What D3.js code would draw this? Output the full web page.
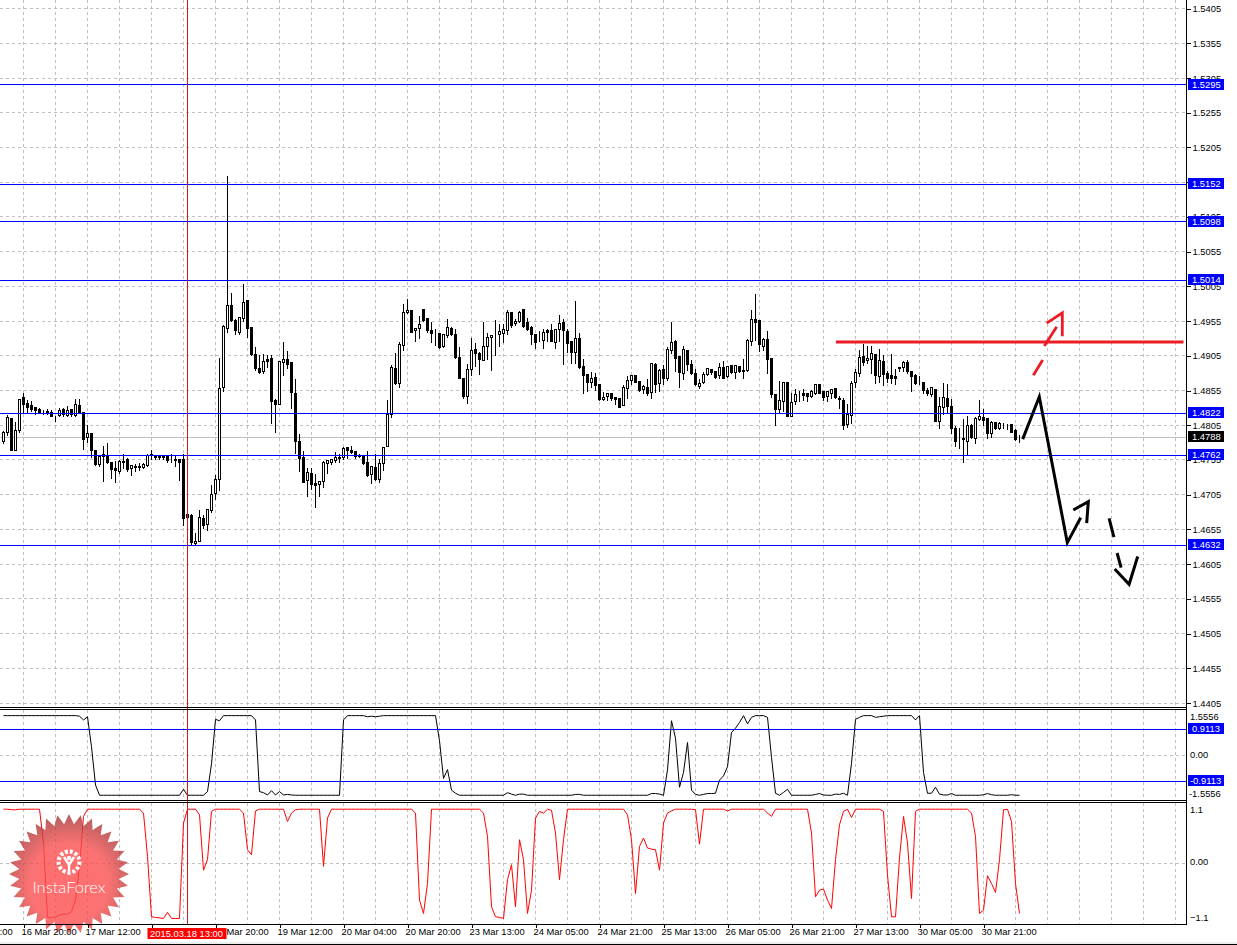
<!DOCTYPE html>
<html>
<head>
<meta charset="utf-8">
<title>GBPUSD H1</title>
<script src="https://cdnjs.cloudflare.com/ajax/libs/d3/7.8.5/d3.min.js"></script>
<style>
  html, body { margin: 0; padding: 0; background: #fff; }
  svg { display: block; }
  text { font-family: "Liberation Sans", Arial, sans-serif; font-size: 9.4px; fill: #000; }
</style>
</head>
<body>
<div id="chart"></div>
<script>
// open, high, low, close per hourly bar
const candles = [
  [1.4782,1.4797,1.4779,1.4794],[1.4795,1.4820,1.4790,1.4816],[1.4815,1.4816,1.4768,1.4769],[1.4768,1.4811,1.4768,1.4797],
  [1.4798,1.4842,1.4795,1.4842],[1.4845,1.4852,1.4824,1.4835],[1.4837,1.4842,1.4824,1.4831],[1.4834,1.4840,1.4825,1.4828],
  [1.4830,1.4832,1.4820,1.4826],[1.4828,1.4830,1.4822,1.4824],[1.4824,1.4828,1.4820,1.4823],[1.4825,1.4829,1.4820,1.4822],
  [1.4824,1.4828,1.4818,1.4818],[1.4819,1.4819,1.4810,1.4819],[1.4819,1.4831,1.4817,1.4826],[1.4828,1.4831,1.4818,1.4820],
  [1.4819,1.4833,1.4817,1.4826],[1.4827,1.4829,1.4818,1.4820],[1.4819,1.4843,1.4818,1.4835],[1.4834,1.4843,1.4822,1.4823],
  [1.4824,1.4825,1.4770,1.4785],[1.4787,1.4806,1.4780,1.4793],[1.4793,1.4794,1.4759,1.4769],[1.4769,1.4769,1.4747,1.4749],
  [1.4748,1.4762,1.4746,1.4760],[1.4763,1.4776,1.4724,1.4760],[1.4761,1.4780,1.4750,1.4752],[1.4751,1.4753,1.4728,1.4741],
  [1.4742,1.4754,1.4722,1.4740],[1.4738,1.4755,1.4735,1.4753],[1.4753,1.4764,1.4743,1.4751],[1.4755,1.4758,1.4739,1.4741],
  [1.4742,1.4749,1.4733,1.4747],[1.4745,1.4750,1.4739,1.4744],[1.4745,1.4751,1.4740,1.4744],[1.4744,1.4751,1.4743,1.4749],
  [1.4747,1.4765,1.4746,1.4761],[1.4763,1.4770,1.4756,1.4761],[1.4762,1.4763,1.4756,1.4758],[1.4760,1.4762,1.4756,1.4758],
  [1.4760,1.4762,1.4756,1.4758],[1.4760,1.4762,1.4752,1.4754],[1.4755,1.4765,1.4752,1.4755],[1.4756,1.4762,1.4745,1.4754],
  [1.4755,1.4757,1.4725,1.4752],[1.4756,1.4765,1.4661,1.4671],[1.4676,1.4678,1.4671,1.4672],[1.4675,1.4678,1.4632,1.4636],
  [1.4634,1.4650,1.4632,1.4638],[1.4638,1.4683,1.4638,1.4672],[1.4671,1.4677,1.4656,1.4660],[1.4662,1.4685,1.4653,1.4684],
  [1.4682,1.4719,1.4680,1.4705],[1.4707,1.4734,1.4698,1.4727],[1.4727,1.4902,1.4711,1.4858],[1.4859,1.4950,1.4854,1.4947],
  [1.4945,1.5165,1.4938,1.4977],[1.4977,1.4996,1.4954,1.4956],[1.4956,1.4959,1.4935,1.4941],[1.4939,1.4962,1.4936,1.4960],
  [1.4958,1.5009,1.4954,1.4982],[1.4984,1.4985,1.4932,1.4944],[1.4946,1.4946,1.4906,1.4907],[1.4907,1.4919,1.4884,1.4887],
  [1.4887,1.4907,1.4879,1.4881],[1.4882,1.4908,1.4880,1.4897],[1.4900,1.4907,1.4888,1.4897],[1.4901,1.4907,1.4807,1.4839],
  [1.4840,1.4844,1.4794,1.4835],[1.4835,1.4898,1.4835,1.4897],[1.4895,1.4925,1.4877,1.4899],[1.4899,1.4912,1.4887,1.4893],
  [1.4896,1.4896,1.4829,1.4852],[1.4851,1.4873,1.4765,1.4781],[1.4781,1.4793,1.4739,1.4757],[1.4758,1.4769,1.4722,1.4723],
  [1.4725,1.4744,1.4703,1.4737],[1.4736,1.4744,1.4713,1.4719],[1.4721,1.4736,1.4687,1.4718],[1.4719,1.4726,1.4703,1.4724],
  [1.4724,1.4754,1.4716,1.4752],[1.4750,1.4756,1.4736,1.4754],[1.4752,1.4756,1.4749,1.4756],[1.4754,1.4767,1.4751,1.4758],
  [1.4758,1.4765,1.4751,1.4757],[1.4758,1.4774,1.4755,1.4772],[1.4773,1.4774,1.4757,1.4768],[1.4769,1.4776,1.4764,1.4766],
  [1.4767,1.4768,1.4757,1.4760],[1.4761,1.4764,1.4759,1.4760],[1.4761,1.4762,1.4749,1.4750],[1.4751,1.4768,1.4731,1.4732],
  [1.4734,1.4747,1.4721,1.4745],[1.4744,1.4764,1.4726,1.4727],[1.4727,1.4757,1.4722,1.4750],[1.4750,1.4775,1.4740,1.4773],
  [1.4774,1.4842,1.4774,1.4821],[1.4821,1.4893,1.4816,1.4888],[1.4887,1.4910,1.4864,1.4865],[1.4865,1.4926,1.4859,1.4921],
  [1.4920,1.4980,1.4912,1.4967],[1.4967,1.4987,1.4966,1.4970],[1.4970,1.4972,1.4939,1.4939],[1.4941,1.4945,1.4926,1.4944],
  [1.4945,1.4963,1.4930,1.4950],[1.4972,1.4973,1.4955,1.4956],[1.4959,1.4960,1.4938,1.4941],[1.4942,1.4954,1.4924,1.4937],
  [1.4937,1.4945,1.4920,1.4937],[1.4937,1.4938,1.4915,1.4917],[1.4918,1.4937,1.4917,1.4936],[1.4934,1.4959,1.4932,1.4946],
  [1.4944,1.4947,1.4934,1.4935],[1.4935,1.4944,1.4901,1.4902],[1.4902,1.4918,1.4872,1.4873],[1.4873,1.4873,1.4844,1.4846],
  [1.4846,1.4894,1.4837,1.4885],[1.4885,1.4931,1.4877,1.4913],[1.4914,1.4924,1.4890,1.4909],[1.4908,1.4911,1.4878,1.4899],
  [1.4898,1.4954,1.4898,1.4918],[1.4918,1.4938,1.4899,1.4931],[1.4931,1.4936,1.4884,1.4934],[1.4934,1.4957,1.4906,1.4934],
  [1.4935,1.4951,1.4919,1.4940],[1.4937,1.4951,1.4924,1.4943],[1.4941,1.4972,1.4936,1.4967],[1.4967,1.4968,1.4946,1.4949],
  [1.4951,1.4958,1.4948,1.4955],[1.4954,1.4970,1.4953,1.4968],[1.4972,1.4973,1.4946,1.4947],[1.4953,1.4960,1.4942,1.4943],
  [1.4946,1.4948,1.4921,1.4935],[1.4935,1.4936,1.4916,1.4924],[1.4926,1.4942,1.4925,1.4926],[1.4927,1.4944,1.4915,1.4939],
  [1.4941,1.4944,1.4925,1.4938],[1.4942,1.4952,1.4925,1.4926],[1.4924,1.4945,1.4916,1.4943],[1.4943,1.4964,1.4926,1.4951],
  [1.4953,1.4958,1.4893,1.4941],[1.4940,1.4945,1.4910,1.4922],[1.4925,1.4926,1.4894,1.4910],[1.4910,1.4984,1.4894,1.4930],
  [1.4930,1.4939,1.4887,1.4888],[1.4889,1.4901,1.4850,1.4876],[1.4878,1.4878,1.4853,1.4866],[1.4867,1.4883,1.4860,1.4872],
  [1.4874,1.4881,1.4855,1.4862],[1.4864,1.4865,1.4841,1.4842],[1.4842,1.4853,1.4841,1.4845],[1.4846,1.4851,1.4841,1.4850],
  [1.4850,1.4850,1.4841,1.4843],[1.4845,1.4847,1.4835,1.4842],[1.4843,1.4845,1.4830,1.4831],[1.4833,1.4863,1.4833,1.4859],
  [1.4858,1.4876,1.4843,1.4870],[1.4869,1.4876,1.4864,1.4876],[1.4876,1.4877,1.4866,1.4867],[1.4868,1.4868,1.4854,1.4855],
  [1.4857,1.4864,1.4850,1.4861],[1.4859,1.4872,1.4848,1.4850],[1.4852,1.4895,1.4844,1.4894],[1.4893,1.4896,1.4852,1.4864],
  [1.4865,1.4886,1.4853,1.4884],[1.4885,1.4892,1.4863,1.4873],[1.4873,1.4919,1.4870,1.4914],[1.4913,1.4954,1.4908,1.4924],
  [1.4925,1.4928,1.4883,1.4901],[1.4904,1.4906,1.4860,1.4881],[1.4880,1.4920,1.4871,1.4914],[1.4913,1.4914,1.4884,1.4893],
  [1.4893,1.4899,1.4878,1.4880],[1.4879,1.4887,1.4862,1.4863],[1.4861,1.4872,1.4858,1.4865],[1.4866,1.4882,1.4865,1.4878],
  [1.4878,1.4888,1.4876,1.4886],[1.4885,1.4886,1.4878,1.4881],[1.4882,1.4883,1.4873,1.4874],[1.4876,1.4896,1.4872,1.4888],
  [1.4888,1.4898,1.4872,1.4873],[1.4875,1.4891,1.4874,1.4890],[1.4891,1.4892,1.4879,1.4881],[1.4881,1.4893,1.4872,1.4891],
  [1.4890,1.4891,1.4881,1.4882],[1.4884,1.4901,1.4872,1.4882],[1.4884,1.4930,1.4883,1.4927],[1.4925,1.4971,1.4920,1.4957],
  [1.4957,1.4994,1.4927,1.4953],[1.4956,1.4956,1.4911,1.4921],[1.4919,1.4932,1.4913,1.4928],[1.4929,1.4941,1.4880,1.4899],
  [1.4901,1.4901,1.4845,1.4849],[1.4849,1.4850,1.4805,1.4827],[1.4828,1.4870,1.4822,1.4840],[1.4839,1.4867,1.4825,1.4866],
  [1.4866,1.4866,1.4818,1.4818],[1.4818,1.4852,1.4817,1.4838],[1.4839,1.4858,1.4835,1.4849],[1.4848,1.4855,1.4839,1.4848],
  [1.4851,1.4858,1.4841,1.4848],[1.4850,1.4852,1.4839,1.4846],[1.4847,1.4857,1.4845,1.4854],[1.4851,1.4865,1.4849,1.4863],
  [1.4863,1.4865,1.4850,1.4851],[1.4853,1.4854,1.4840,1.4845],[1.4846,1.4854,1.4839,1.4853],[1.4851,1.4858,1.4844,1.4857],
  [1.4858,1.4859,1.4844,1.4845],[1.4844,1.4848,1.4829,1.4842],[1.4841,1.4845,1.4799,1.4804],[1.4806,1.4836,1.4802,1.4821],
  [1.4819,1.4870,1.4808,1.4865],[1.4866,1.4887,1.4860,1.4881],[1.4879,1.4914,1.4875,1.4902],[1.4904,1.4922,1.4891,1.4896],
  [1.4898,1.4920,1.4894,1.4901],[1.4900,1.4920,1.4879,1.4908],[1.4907,1.4908,1.4865,1.4876],[1.4875,1.4915,1.4866,1.4898],
  [1.4897,1.4907,1.4862,1.4878],[1.4880,1.4884,1.4866,1.4873],[1.4876,1.4908,1.4865,1.4872],[1.4875,1.4887,1.4863,1.4873],
  [1.4888,1.4890,1.4883,1.4886],[1.4888,1.4898,1.4883,1.4895],[1.4895,1.4900,1.4880,1.4882],[1.4882,1.4883,1.4853,1.4875],
  [1.4876,1.4879,1.4863,1.4865],[1.4865,1.4876,1.4864,1.4865],[1.4866,1.4867,1.4851,1.4855],[1.4855,1.4859,1.4848,1.4850],
  [1.4849,1.4860,1.4846,1.4859],[1.4856,1.4856,1.4811,1.4811],[1.4810,1.4846,1.4800,1.4832],[1.4831,1.4866,1.4821,1.4845],
  [1.4843,1.4865,1.4822,1.4832],[1.4832,1.4843,1.4793,1.4800],[1.4800,1.4804,1.4774,1.4782],[1.4785,1.4802,1.4771,1.4785],
  [1.4786,1.4814,1.4751,1.4784],[1.4782,1.4819,1.4762,1.4805],[1.4804,1.4807,1.4786,1.4787],[1.4786,1.4817,1.4779,1.4814],
  [1.4813,1.4842,1.4812,1.4818],[1.4816,1.4829,1.4805,1.4812],[1.4815,1.4816,1.4786,1.4793],[1.4793,1.4812,1.4788,1.4809],
  [1.4809,1.4810,1.4799,1.4800],[1.4800,1.4810,1.4799,1.4808],[1.4805,1.4809,1.4800,1.4805],[1.4805,1.4808,1.4799,1.4805],
  [1.4806,1.4807,1.4794,1.4795],[1.4798,1.4800,1.4783,1.4784],[1.4788,1.4791,1.4780,1.4788],
];

// upper indicator, one value per bar (10 per row)
const upperOsc = [
  1.39,1.39,1.39,1.39,1.39,1.39,1.39,1.39,1.39,1.39,
  1.39,1.39,1.39,1.39,1.39,1.39,1.39,1.39,1.39,1.37,
  1.24,1.35,0.30,-1.04,-1.40,-1.40,-1.40,-1.40,-1.40,-1.40,
  -1.40,-1.40,-1.40,-1.40,-1.40,-1.40,-1.40,-1.40,-1.40,-1.40,
  -1.40,-1.40,-1.40,-1.40,-1.40,-1.19,-1.40,-1.40,-1.40,-1.40,
  -1.40,-1.27,-0.30,1.26,1.21,1.39,1.39,1.39,1.39,1.39,
  1.39,1.39,1.39,1.24,-1.27,-1.31,-1.39,-1.24,-1.39,-1.27,
  -1.39,-1.37,-1.39,-1.40,-1.40,-1.40,-1.40,-1.40,-1.40,-1.40,
  -1.40,-1.40,-1.40,-1.40,-1.40,1.24,1.39,1.39,1.39,1.39,
  1.39,1.35,1.37,1.35,1.37,1.39,1.39,1.39,1.39,1.39,
  1.39,1.39,1.39,1.39,1.39,1.39,1.39,1.39,1.39,0.51,
  -0.81,-0.50,-1.22,-1.33,-1.40,-1.40,-1.40,-1.40,-1.40,-1.40,
  -1.40,-1.40,-1.40,-1.40,-1.40,-1.40,-1.31,-1.36,-1.40,-1.36,
  -1.36,-1.40,-1.40,-1.40,-1.40,-1.40,-1.40,-1.40,-1.40,-1.40,
  -1.40,-1.40,-1.40,-1.37,-1.37,-1.40,-1.40,-1.40,-1.40,-1.40,
  -1.40,-1.40,-1.40,-1.40,-1.40,-1.40,-1.40,-1.40,-1.40,-1.40,
  -1.40,-1.40,-1.34,-1.34,-1.36,-1.40,-0.51,1.21,0.60,-1.12,
  -0.60,0.45,-1.22,-1.37,-1.40,-1.37,-1.34,-1.34,-1.33,-0.87,
  -0.72,-0.40,0.80,0.95,1.15,1.39,1.10,1.33,1.39,1.39,
  1.39,1.33,-0.07,-1.33,-1.40,-1.30,-1.19,-1.40,-1.40,-1.40,
  -1.40,-1.40,-1.40,-1.37,-1.34,-1.39,-1.40,-1.40,-1.36,-1.37,
  -1.33,-1.40,-0.28,1.26,1.33,1.39,1.39,1.39,1.33,1.35,
  1.37,1.39,1.39,1.39,1.39,1.39,1.39,1.39,1.24,1.39,
  -0.60,-1.33,-1.33,-1.12,-1.36,-1.39,-1.39,-1.34,-1.40,-1.40,
  -1.40,-1.40,-1.40,-1.40,-1.40,-1.38,-1.34,-1.38,-1.40,-1.40,
  -1.40,-1.40,-1.38,-1.40,-1.40,
];

// lower indicator, one value per bar (10 per row)
const lowerOsc = [
  0.97,0.97,0.96,0.96,0.97,0.97,0.97,0.97,0.97,0.97,
  0.36,-0.98,-0.99,-0.97,-0.94,-0.92,-0.92,-0.88,-0.67,-0.06,
  0.84,0.97,0.97,0.97,0.97,0.97,0.97,0.97,0.97,0.97,
  0.97,0.97,0.97,0.97,0.97,0.90,0.12,-0.97,-0.98,-0.99,
  -1.00,-0.89,-1.00,-1.00,-1.00,0.72,0.97,0.97,0.97,0.87,
  -0.13,0.06,0.93,0.97,0.97,0.97,0.97,0.97,0.97,0.97,
  0.90,0.24,0.15,0.94,0.97,0.97,0.97,0.97,0.97,0.97,
  0.97,0.75,0.90,0.96,0.97,0.97,0.97,0.97,0.97,0.97,
  -0.06,0.81,0.97,0.97,0.97,0.97,0.97,0.97,0.97,0.97,
  0.97,0.97,0.97,0.97,0.97,0.97,0.97,0.97,0.97,0.97,
  0.97,0.97,0.97,0.90,-0.67,-0.91,-0.37,0.97,0.97,0.97,
  0.97,0.97,0.97,0.97,0.97,0.97,0.97,0.97,0.97,0.97,
  0.90,0.48,-0.79,-0.97,-0.98,-1.00,-0.30,-0.03,-0.79,0.42,
  0.06,-0.91,-0.49,0.81,0.93,0.90,0.97,0.95,0.54,-0.30,
  0.42,0.97,0.97,0.97,0.97,0.97,0.97,0.97,0.97,0.97,
  0.97,0.97,0.97,0.97,0.97,0.97,0.87,0.42,-0.55,0.30,
  0.45,0.27,0.25,0.24,-0.13,0.72,0.90,0.94,0.97,0.97,
  0.97,0.97,0.97,0.96,0.34,0.97,0.97,0.97,0.97,0.97,
  0.97,0.94,0.97,0.97,0.97,0.97,0.97,0.97,0.97,0.97,
  0.97,0.90,0.84,0.97,0.97,0.97,0.97,0.97,0.97,0.97,
  0.97,0.97,0.54,-0.61,-0.49,-0.47,-0.67,-0.82,0.06,0.69,
  0.93,0.97,0.82,0.97,0.97,0.97,0.97,0.97,0.97,0.97,
  0.93,-0.22,-0.97,-0.97,0.09,0.84,0.36,-0.64,0.93,0.97,
  0.97,0.97,0.97,0.97,0.97,0.97,0.97,0.97,0.97,0.97,
  0.97,0.97,0.90,0.48,-0.91,-0.85,-0.23,-0.37,-0.53,0.06,
  0.96,0.97,0.75,-0.37,-0.91,
];

const priceTicks = [1.5405,1.5355,1.5305,1.5255,1.5205,1.5155,1.5105,1.5055,1.5005,1.4955,1.4905,1.4855,1.4805,1.4755,1.4705,1.4655,1.4605,1.4555,1.4505,1.4455,1.4405];
const blueLevels = [1.5295,1.5152,1.5098,1.5014,1.4822,1.4762,1.4632];
const lastPrice = 1.4788;
const upperLevels = [0.9113,-0.9113];
const upperLabels = [1.5556,0,-1.5556];
const lowerLabels = [1.1,0,-1.1];

const timeTickBars = [-11,5,21,37,53,69,85,101,117,133,149,165,181,197,213,229,245];
const timeTickLabels = ['16 Mar 04:00','16 Mar 20:00','17 Mar 12:00','18 Mar 04:00','18 Mar 20:00','19 Mar 12:00','20 Mar 04:00','20 Mar 20:00','23 Mar 13:00','24 Mar 05:00','24 Mar 21:00','25 Mar 13:00','26 Mar 05:00','26 Mar 21:00','27 Mar 13:00','30 Mar 05:00','30 Mar 21:00'];
const crossBar = 46;
const crossLabel = '2015.03.18 13:00';

// hand drawn forecast, as [bar, price]
const redLevelLine = [[208.1,1.4925],[295,1.4925]];
const redStrokes = [
  [[257.45,1.4877],[259.8,1.4899]],
  [[260.2,1.4919],[263.3,1.4947]],
  [[260.8,1.4952],[264.7,1.4967],[264.7,1.4933]],
];
const blackStrokes = [
  [[254.8,1.4785],[258.95,1.4846],[265.95,1.4636],[269.3,1.4672]],
  [[267.45,1.4683],[271.2,1.4695],[270.8,1.4664]],
  [[276.4,1.4671],[277.6,1.4644]],
  [[278.4,1.4621],[279.4,1.4600]],
  [[277.8,1.4598],[281.4,1.4576],[283.55,1.4616]],
];

const width = 1237;
const height = 945;
const plotRight = 1186;
const main = { top: 0, bottom: 707 };
const upper = { top: 709.5, bottom: 800.5 };
const lower = { top: 802.5, bottom: 924.5 };

const svg = d3.select('#chart').append('svg')
  .attr('width', width)
  .attr('height', height)
  .attr('viewBox', `0 0 ${width} ${height}`);

const xScale = d3.scaleLinear().domain([0, 295]).range([3.5, 1183.5]);
const yPrice = d3.scaleLinear().domain([1.4405, 1.5405]).range([703, 8.6]);
const yUpper = d3.scaleLinear().domain([-1.5556, 1.5556]).range([799.7, 710.9]);
const yLower = d3.scaleLinear().domain([-1.1, 1.1]).range([924, 802]);

const snap = (v) => Math.round(v - 0.5) + 0.5;

const defs = svg.append('defs');
defs.append('clipPath').attr('id', 'main-clip').append('rect')
  .attr('x', 0).attr('y', 0).attr('width', plotRight).attr('height', main.bottom);
defs.append('clipPath').attr('id', 'upper-clip').append('rect')
  .attr('x', 0).attr('y', upper.top).attr('width', plotRight).attr('height', upper.bottom - upper.top);
defs.append('clipPath').attr('id', 'lower-clip').append('rect')
  .attr('x', 0).attr('y', lower.top).attr('width', plotRight).attr('height', lower.bottom - lower.top);

// Gridlines
const gridColor = '#c0c0c0';
const gridBars = d3.range(5, 295, 8);
const grid = svg.append('g').attr('stroke', gridColor).attr('stroke-dasharray', '3,3').attr('shape-rendering', 'crispEdges');

[main, upper, lower].forEach((pane) => {
  grid.append('g').selectAll('line').data(gridBars).join('line')
    .attr('x1', (d) => snap(xScale(d)))
    .attr('x2', (d) => snap(xScale(d)))
    .attr('y1', pane.top)
    .attr('y2', pane.bottom);
});

grid.append('g').selectAll('line').data(priceTicks).join('line')
  .attr('x1', 0).attr('x2', plotRight)
  .attr('y1', (d) => snap(yPrice(d)))
  .attr('y2', (d) => snap(yPrice(d)));

grid.append('line').attr('x1', 0).attr('x2', plotRight).attr('y1', snap(yUpper(0))).attr('y2', snap(yUpper(0)));
grid.append('line').attr('x1', 0).attr('x2', plotRight).attr('y1', snap(yLower(0))).attr('y2', snap(yLower(0)));

// Last price line goes under the candles
svg.append('line')
  .attr('x1', 0).attr('x2', plotRight)
  .attr('y1', snap(yPrice(lastPrice))).attr('y2', snap(yPrice(lastPrice)))
  .attr('stroke', '#c0c0c0').attr('shape-rendering', 'crispEdges');

// Candles
const candleG = svg.append('g').attr('clip-path', 'url(#main-clip)').attr('shape-rendering', 'crispEdges');

candleG.append('g').attr('stroke', '#000').selectAll('line').data(candles).join('line')
  .attr('x1', (d, i) => xScale(i))
  .attr('x2', (d, i) => xScale(i))
  .attr('y1', (d) => snap(yPrice(d[1])))
  .attr('y2', (d) => snap(yPrice(d[2])));

candleG.append('g').attr('stroke', '#000').selectAll('rect').data(candles).join('rect')
  .attr('x', (d, i) => xScale(i) - 1)
  .attr('width', 2)
  .attr('y', (d) => snap(yPrice(Math.max(d[0], d[3]))))
  .attr('height', (d) => Math.max(0, snap(yPrice(Math.min(d[0], d[3]))) - snap(yPrice(Math.max(d[0], d[3])))))
  .attr('fill', (d) => (d[3] > d[0] ? '#fff' : '#000'));

// Indicators
const upperLine = d3.line().x((d, i) => xScale(i)).y((d) => yUpper(d));
const lowerLine = d3.line().x((d, i) => xScale(i)).y((d) => yLower(d));

svg.append('path').datum(upperOsc)
  .attr('clip-path', 'url(#upper-clip)')
  .attr('d', upperLine).attr('fill', 'none').attr('stroke', '#000').attr('stroke-width', 1);

svg.append('path').datum(lowerOsc)
  .attr('clip-path', 'url(#lower-clip)')
  .attr('d', lowerLine).attr('fill', 'none').attr('stroke', '#f00').attr('stroke-width', 1);

// Horizontal level lines
const blue = '#0000ff';
const levels = svg.append('g').attr('stroke', blue).attr('shape-rendering', 'crispEdges');

levels.selectAll('.price-level').data(blueLevels).join('line')
  .attr('class', 'price-level')
  .attr('x1', 0).attr('x2', plotRight)
  .attr('y1', (d) => snap(yPrice(d)))
  .attr('y2', (d) => snap(yPrice(d)));

levels.selectAll('.upper-level').data(upperLevels).join('line')
  .attr('class', 'upper-level')
  .attr('x1', 0).attr('x2', plotRight)
  .attr('y1', (d) => snap(yUpper(d)))
  .attr('y2', (d) => snap(yUpper(d)));

// Crosshair
svg.append('line')
  .attr('x1', snap(xScale(crossBar))).attr('x2', snap(xScale(crossBar)))
  .attr('y1', 0).attr('y2', lower.bottom)
  .attr('stroke', '#c81e1e').attr('shape-rendering', 'crispEdges');

// Watermark
const starRadius = d3.range(64).map((i) => (i % 2 ? 50 : 60));
const star = d3.lineRadial()
  .angle((d, i) => (i / 64) * 2 * Math.PI)
  .radius((d) => d)
  .curve(d3.curveLinearClosed);

const grad = defs.append('radialGradient').attr('id', 'star-fill').attr('cx', '50%').attr('cy', '58%').attr('r', '60%');
grad.append('stop').attr('offset', '0%').attr('stop-color', '#ff4a4a');
grad.append('stop').attr('offset', '55%').attr('stop-color', '#fb4f4f');
grad.append('stop').attr('offset', '100%').attr('stop-color', '#9c3434');

const mark = svg.append('g').attr('transform', 'translate(69,874)');
mark.append('path').attr('d', star(starRadius)).attr('fill', 'url(#star-fill)').attr('opacity', 0.8);
mark.append('circle').attr('cy', -12).attr('r', 10.5)
  .attr('fill', 'none').attr('stroke', '#fff').attr('stroke-width', 4).attr('stroke-dasharray', '3,2');
mark.append('circle').attr('cy', -16).attr('r', 2.2).attr('fill', '#fff');
mark.append('path').attr('d', 'M-5,-17 L0,-9 L5,-17 M0,-10 L0,1')
  .attr('fill', 'none').attr('stroke', '#fff').attr('stroke-width', 2.4);
mark.append('text').attr('y', 19).attr('text-anchor', 'middle')
  .style('font-family', 'Lato, "Noto Sans", sans-serif')
  .style('font-size', '16.5px').style('font-weight', 300).style('fill', '#fff')
  .text('InstaForex');

// Hand drawn arrows
const drawn = d3.line().x((d) => xScale(d[0])).y((d) => yPrice(d[1]));
const red = '#ed1c24';

svg.append('path').attr('d', drawn(redLevelLine)).attr('fill', 'none').attr('stroke', red).attr('stroke-width', 3);

svg.append('g').selectAll('path').data(redStrokes).join('path')
  .attr('d', drawn).attr('fill', 'none').attr('stroke', red).attr('stroke-width', 2.8);

svg.append('g').selectAll('path').data(blackStrokes).join('path')
  .attr('d', drawn).attr('fill', 'none').attr('stroke', '#000').attr('stroke-width', 3);

// Pane frames
const frame = svg.append('g').attr('stroke', '#000').attr('shape-rendering', 'crispEdges');
[main.bottom + 0.5, upper.top, upper.bottom, lower.top, lower.bottom].forEach((y) => {
  frame.append('line').attr('x1', 0).attr('x2', plotRight).attr('y1', y).attr('y2', y);
});

// Price axis
const priceAxis = d3.axisRight(yPrice).tickValues(priceTicks).tickFormat(d3.format('.4f')).tickSize(4).tickSizeOuter(0);
const priceG = svg.append('g').attr('transform', `translate(${plotRight + 0.5},0)`).call(priceAxis);
priceG.select('.domain').attr('d', `M0,0V${lower.bottom}`).attr('stroke', '#000').attr('shape-rendering', 'crispEdges');
priceG.selectAll('.tick line').attr('shape-rendering', 'crispEdges');
priceG.selectAll('.tick text').attr('x', 6).attr('font-size', null).attr('font-family', null);

// Time axis
const timeAxis = d3.axisBottom(xScale).tickValues(timeTickBars)
  .tickFormat((d, i) => timeTickLabels[i]).tickSize(3).tickSizeOuter(0);
const timeG = svg.append('g').attr('transform', `translate(0,${lower.bottom})`).call(timeAxis);
timeG.select('.domain').remove();
timeG.selectAll('.tick line').attr('shape-rendering', 'crispEdges');
timeG.selectAll('.tick text')
  .attr('text-anchor', 'start').attr('x', -2.5).attr('y', 4).attr('font-size', null).attr('font-family', null);

// Selected time tag
svg.append('rect').attr('x', 147.5).attr('y', 928).attr('width', 79).attr('height', 11).attr('fill', '#f00');
svg.append('text').attr('x', 150).attr('y', 937).style('fill', '#fff').text(crossLabel);

// Indicator scale labels
const fmtLabel = (d) => (Math.abs(d) === 1.1 ? d3.format('.1f')(d) : d3.format('.2f')(d));
svg.append('text').attr('x', 1190).attr('y', 720).text('1.5556');
svg.append('text').attr('x', 1190).attr('y', 758).text(fmtLabel(upperLabels[1]));
svg.append('text').attr('x', 1189).attr('y', 797).text('-1.5556');
svg.append('text').attr('x', 1190).attr('y', 813).text(fmtLabel(lowerLabels[0]));
svg.append('text').attr('x', 1190).attr('y', 865).text(fmtLabel(lowerLabels[1]));
svg.append('text').attr('x', 1190).attr('y', 921).text(fmtLabel(lowerLabels[2]));

// Coloured value tags on the right
function tag(y, label, fill) {
  svg.append('rect').attr('x', 1188).attr('y', y - 6).attr('width', 36).attr('height', 11).attr('fill', fill);
  svg.append('text').attr('x', label[0] === '-' ? 1190 : 1192).attr('y', y + 3).style('fill', '#fff').text(label);
}
blueLevels.forEach((d) => tag(Math.round(yPrice(d)) , d3.format('.4f')(d), blue));
tag(Math.round(yPrice(lastPrice)), d3.format('.4f')(lastPrice), '#000');
upperLevels.forEach((d) => tag(Math.round(yUpper(d)), d3.format('.4f')(d).replace('−', '-'), blue));

// Window edge under the chart
svg.append('rect').attr('x', 0).attr('y', 942).attr('width', width).attr('height', 2).attr('fill', '#ececec');
svg.append('rect').attr('x', 0).attr('y', 944).attr('width', width).attr('height', 1).attr('fill', '#000');
</script>
</body>
</html>
